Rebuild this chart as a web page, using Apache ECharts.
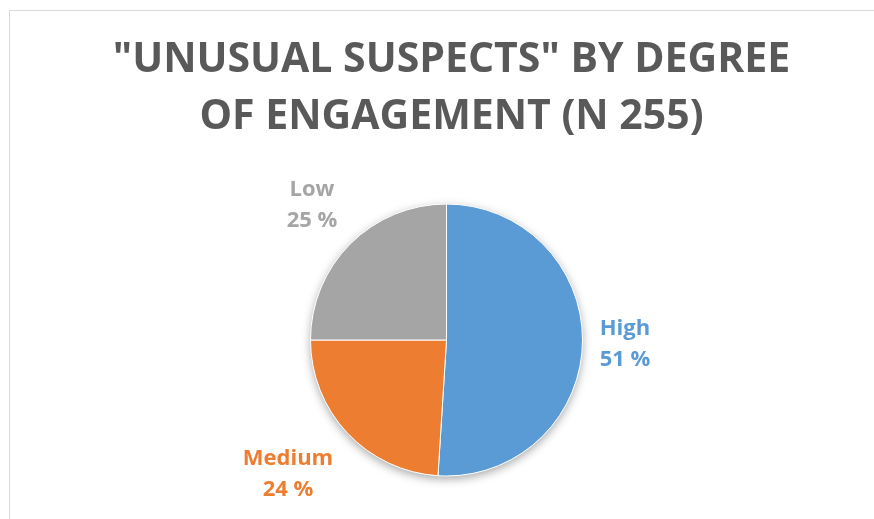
<!DOCTYPE html>
<html>
<head>
<meta charset="utf-8">
<style>
  html, body { margin: 0; padding: 0; background: #ffffff; }
  #chart { width: 874px; height: 519px; }
</style>
<script src="https://cdn.jsdelivr.net/npm/echarts@6/dist/echarts.min.js"></script>
</head>
<body>
<div id="chart"></div>
<script>
// Engagement categories and their shares (percent)
const categories = ['High', 'Medium', 'Low'];
const shares = [51, 24, 25];
const sliceColors = ['#5b9bd5', '#ed7d31', '#a5a5a5'];
const titleText = '"UNUSUAL SUSPECTS" BY DEGREE\nOF ENGAGEMENT (N 255)';

const center = [446.5, 340];
const radius = 136;
// label centres, as offsets from the pie centre
const labelOffset = [[178.5, 4], [-158.5, 134], [-134.5, -135]];

const total = shares.reduce((a, b) => a + b, 0);

const chart = echarts.init(document.getElementById('chart'), null, { renderer: 'canvas' });

chart.setOption({
  backgroundColor: '#ffffff',
  animation: false,
  graphic: [{
    type: 'rect',
    shape: { x: 9.5, y: 10.5, width: 1000, height: 1000 },
    style: { fill: 'none', stroke: '#d9d9d9', lineWidth: 1 },
    silent: true,
    z: -10
  }],
  title: {
    text: titleText,
    left: center[0],
    top: 27,
    textAlign: 'center',
    textStyle: {
      fontFamily: 'Open Sans',
      fontWeight: 'bold',
      fontSize: 41,
      lineHeight: 57,
      color: '#595959'
    }
  },
  series: [
    {
      // soft shadow disc under the pie
      type: 'pie',
      silent: true,
      center: center,
      radius: radius,
      startAngle: 90,
      label: { show: false },
      labelLine: { show: false },
      data: [{ value: total }],
      itemStyle: {
        color: '#ffffff',
        shadowBlur: 10,
        shadowColor: 'rgba(0,0,0,0.35)',
        shadowOffsetY: 3
      },
      z: 1
    },
    {
      type: 'pie',
      center: center,
      radius: radius,
      startAngle: 90,
      clockwise: true,
      z: 2,
      data: categories.map((c, i) => ({
        name: c,
        value: shares[i],
        itemStyle: { color: sliceColors[i] },
        label: { color: sliceColors[i] }
      })),
      itemStyle: { borderColor: '#ffffff', borderWidth: 1 },
      label: {
        show: true,
        position: 'outside',
        formatter: p => p.name + '\n' + p.value + ' %',
        fontFamily: 'Open Sans',
        fontWeight: 'bold',
        fontSize: 22,
        lineHeight: 31,
        align: 'center'
      },
      labelLine: { show: false },
      labelLayout: function (params) {
        const off = labelOffset[params.dataIndex];
        return {
          x: center[0] + off[0],
          y: center[1] + off[1],
          align: 'center',
          verticalAlign: 'middle'
        };
      }
    }
  ]
});
</script>
</body>
</html>
